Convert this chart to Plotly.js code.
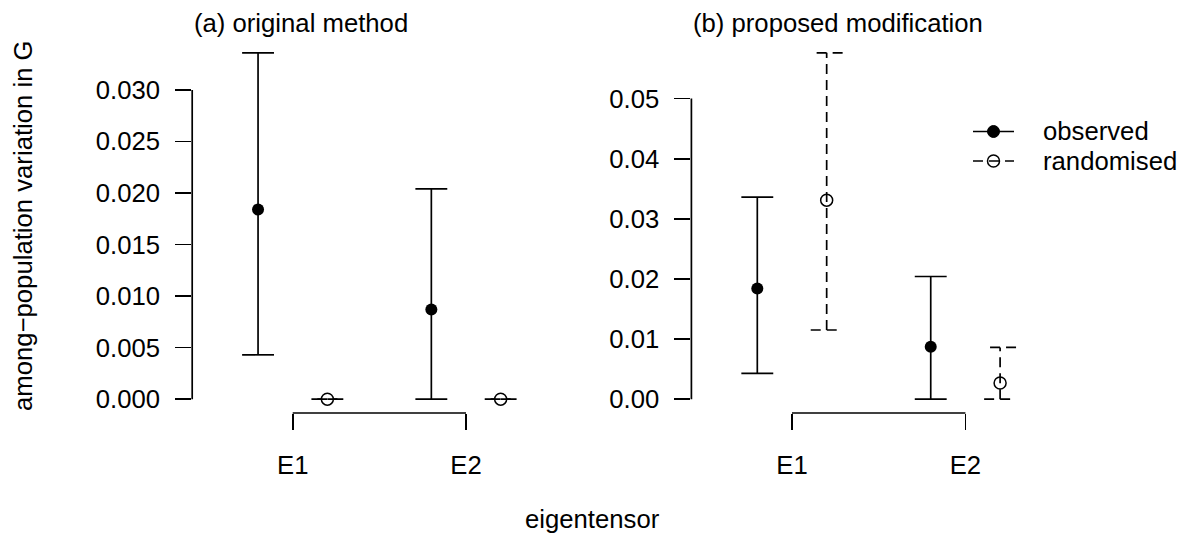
<!DOCTYPE html>
<html>
<head>
<meta charset="utf-8">
<script src="https://cdn.plot.ly/plotly-3.0.1.min.js"></script>
<style>html,body{margin:0;padding:0;background:#fff;}#chart{width:1184px;height:540px;}</style>
</head>
<body>
<div id="chart"></div>
<script>
// ---- data ----
const categories = ['E1', 'E2'];
const categoryPos = [1, 2];

// observed (same in both panels)
const observedEst = [0.0184, 0.0087];
const observedLo  = [0.0043, 0.0];
const observedHi  = [0.0336, 0.0204];

// (a) original method: randomised
const randomisedA_Est = [0.0, 0.0];
const randomisedA_Lo  = [0.0, 0.0];
const randomisedA_Hi  = [0.0, 0.0];

// (b) proposed modification: randomised
const randomisedB_Est = [0.0331, 0.0027];
const randomisedB_Lo  = [0.0115, 0.0];
const randomisedB_Hi  = [0.0576, 0.0086];

const yTicksA = [0, 0.005, 0.010, 0.015, 0.020, 0.025, 0.030];
const yTickLabelsA = ['0.000', '0.005', '0.010', '0.015', '0.020', '0.025', '0.030'];
const yTicksB = [0, 0.01, 0.02, 0.03, 0.04, 0.05];
const yTickLabelsB = ['0.00', '0.01', '0.02', '0.03', '0.04', '0.05'];

const panelTitles = ['(a) original method', '(b) proposed modification'];
const seriesNames = ['observed', 'randomised'];
const xTitle = 'eigentensor';
const yTitle = 'among\u2212population variation in G';

// ---- style ----
const FONT = 'Liberation Sans, Arial, Helvetica, sans-serif';
const FS = 25.7;
const LW = 1.7;
const DASH = '10px,6px';
const CAP = 0.092;          // cap half-width in x units
const OFFSET = 0.2;         // dodge of series around category
const xDomA = [192.2 / 1184, 566.5 / 1184];
const xDomB = [691.4 / 1184, 1066 / 1184];
const yDom = [1 - 413 / 540, 1 - 39 / 540];

function rRange(lo, hi) { const p = (hi - lo) * 0.04; return [lo - p, hi + p]; }

function seriesTraces(xa, ya, est, lo, hi, off, filled, dashed) {
  const sx = [], sy = [];
  const px = categoryPos.map(c => c + off);
  for (let i = 0; i < est.length; i++) {
    const x = px[i];
    // top cap drawn right->left, stem lo->hi, bottom cap left->right
    sx.push(x + CAP, x - CAP, null, x, x, null, x - CAP, x + CAP, null);
    sy.push(hi[i], hi[i], null, lo[i], hi[i], null, lo[i], lo[i], null);
  }
  return [
    { type: 'scatter', mode: 'lines', x: sx, y: sy, xaxis: xa, yaxis: ya,
      line: { color: '#000', width: LW, dash: dashed ? DASH : 'solid' },
      showlegend: false, hoverinfo: 'skip' },
    { type: 'scatter', mode: 'markers', x: px, y: est, xaxis: xa, yaxis: ya,
      marker: filled ? { symbol: 'circle', size: 12, color: '#000' }
                     : { symbol: 'circle-open', size: 12, color: '#000', line: { width: 1.5, color: '#000' } },
      showlegend: false }
  ];
}

const data = [].concat(
  seriesTraces('x', 'y', observedEst, observedLo, observedHi, -OFFSET, true, false),
  seriesTraces('x', 'y', randomisedA_Est, randomisedA_Lo, randomisedA_Hi, OFFSET, false, true),
  seriesTraces('x2', 'y2', observedEst, observedLo, observedHi, -OFFSET, true, false),
  seriesTraces('x2', 'y2', randomisedB_Est, randomisedB_Lo, randomisedB_Hi, OFFSET, false, true)
);

const yRangeA = rRange(0, Math.max(...observedHi, ...randomisedA_Hi));
const yRangeB = rRange(0, Math.max(...observedHi, ...randomisedB_Hi));
const xRange = rRange(categoryPos[0] - 0.5, categoryPos[categoryPos.length - 1] + 0.5);

const xCommon = {
  range: xRange, tickmode: 'array', tickvals: categoryPos, ticktext: categories,
  ticks: 'outside', ticklen: 16, tickwidth: LW, tickcolor: '#000',
  showline: false, showgrid: false, zeroline: false,
  tickfont: { family: FONT, size: FS, color: '#000' }, ticklabelstandoff: 13, fixedrange: true
};
function yAxis(range, tv, tt, anchor) {
  return {
    domain: yDom, range: range, tickmode: 'array', tickvals: tv, ticktext: tt, anchor: anchor,
    ticks: 'outside', ticklen: 16, tickwidth: LW, tickcolor: '#000',
    showline: false, showgrid: false, zeroline: false,
    tickfont: { family: FONT, size: FS, color: '#000' }, ticklabelstandoff: 10, fixedrange: true
  };
}

const axisLine = { color: '#000', width: LW };
const shapes = [
  { type: 'line', xref: 'paper', yref: 'y', x0: xDomA[0], x1: xDomA[0], y0: yTicksA[0], y1: yTicksA[yTicksA.length - 1], line: axisLine },
  { type: 'line', xref: 'paper', yref: 'y2', x0: xDomB[0], x1: xDomB[0], y0: yTicksB[0], y1: yTicksB[yTicksB.length - 1], line: axisLine },
  { type: 'line', xref: 'x', yref: 'paper', x0: categoryPos[0], x1: categoryPos[categoryPos.length - 1], y0: yDom[0], y1: yDom[0], line: axisLine },
  { type: 'line', xref: 'x2', yref: 'paper', x0: categoryPos[0], x1: categoryPos[categoryPos.length - 1], y0: yDom[0], y1: yDom[0], line: axisLine }
];

// legend (drawn manually to match base-R legend)
const legY = [1 - 131.5 / 540, 1 - 161 / 540];
const legX0 = 973 / 1184, legX1 = 1014 / 1184, legXc = 993.5 / 1184, legXt = 1041 / 1184;
shapes.push(
  { type: 'line', xref: 'paper', yref: 'paper', x0: legX0, x1: legX1, y0: legY[0], y1: legY[0], line: { color: '#000', width: LW } },
  { type: 'line', xref: 'paper', yref: 'paper', x0: legX0, x1: legX1, y0: legY[1], y1: legY[1], line: { color: '#000', width: LW, dash: DASH } },
  { type: 'circle', xref: 'paper', yref: 'paper', xsizemode: 'pixel', ysizemode: 'pixel', xanchor: legXc, yanchor: legY[0],
    x0: -6, x1: 6, y0: -6, y1: 6, fillcolor: '#000', line: { color: '#000', width: 1 } },
  { type: 'circle', xref: 'paper', yref: 'paper', xsizemode: 'pixel', ysizemode: 'pixel', xanchor: legXc, yanchor: legY[1],
    x0: -6, x1: 6, y0: -6, y1: 6, fillcolor: 'rgba(0,0,0,0)', line: { color: '#000', width: 1.5 } }
);

const txt = () => ({ family: FONT, size: FS, color: '#000' });
const annotations = [
  { text: panelTitles[0], xref: 'paper', yref: 'paper', x: xDomA[0], y: 1 - 23 / 540, xanchor: 'left', yanchor: 'middle', showarrow: false, font: txt() },
  { text: panelTitles[1], xref: 'paper', yref: 'paper', x: xDomB[0], y: 1 - 23 / 540, xanchor: 'left', yanchor: 'middle', showarrow: false, font: txt() },
  { text: xTitle, xref: 'paper', yref: 'paper', x: 0.5, y: 1 - 519 / 540, xanchor: 'center', yanchor: 'middle', showarrow: false, font: txt() },
  { text: yTitle, xref: 'paper', yref: 'paper', x: 23 / 1184, y: (yDom[0] + yDom[1]) / 2, xanchor: 'center', yanchor: 'middle', textangle: -90, showarrow: false, font: txt() },
  { text: seriesNames[0], xref: 'paper', yref: 'paper', x: legXt, y: legY[0], xanchor: 'left', yanchor: 'middle', showarrow: false, font: txt() },
  { text: seriesNames[1], xref: 'paper', yref: 'paper', x: legXt, y: legY[1], xanchor: 'left', yanchor: 'middle', showarrow: false, font: txt() }
];

const layout = {
  width: 1184, height: 540,
  margin: { l: 0, r: 0, t: 0, b: 0 },
  paper_bgcolor: '#fff', plot_bgcolor: '#fff',
  showlegend: false,
  font: { family: FONT, size: FS, color: '#000' },
  xaxis: Object.assign({}, xCommon, { domain: xDomA, anchor: 'y' }),
  xaxis2: Object.assign({}, xCommon, { domain: xDomB, anchor: 'y2' }),
  yaxis: yAxis(yRangeA, yTicksA, yTickLabelsA, 'x'),
  yaxis2: yAxis(yRangeB, yTicksB, yTickLabelsB, 'x2'),
  shapes: shapes,
  annotations: annotations
};

Plotly.newPlot('chart', data, layout, { staticPlot: true, displayModeBar: false });
</script>
</body>
</html>
